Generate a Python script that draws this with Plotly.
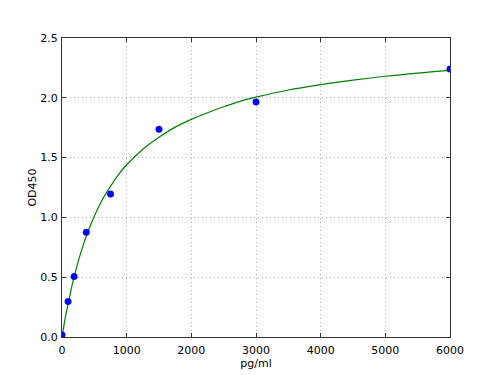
import plotly.graph_objects as go

# Standard points
conc = [0, 94, 188, 375, 750, 1500, 3000, 6000]
od = [0.017, 0.297, 0.505, 0.875, 1.195, 1.736, 1.965, 2.24]

# Fitted curve
curve_x = [0, 25, 50, 100, 150, 200, 300, 400, 500, 625, 750, 875, 1000, 1250, 1500,
           1750, 2000, 2250, 2500, 2750, 3000, 3500, 4000, 4500, 5000, 5500, 6000]
curve_y = [0.0, 0.08, 0.16, 0.29, 0.42, 0.53, 0.72, 0.88, 1.01, 1.15, 1.26, 1.36,
           1.44, 1.57, 1.67, 1.755, 1.82, 1.875, 1.925, 1.97, 2.005, 2.065, 2.11,
           2.148, 2.18, 2.207, 2.23]

x_ticks = [0, 1000, 2000, 3000, 4000, 5000, 6000]
y_ticks = [0.0, 0.5, 1.0, 1.5, 2.0, 2.5]
y_labels = ["0.0", "0.5", "1.0", "1.5", "2.0", "2.5"]

font = dict(family="DejaVu Sans", size=11, color="black")

fig = go.Figure()
fig.add_trace(go.Scatter(x=curve_x, y=curve_y, mode="lines",
                         line=dict(color="#008000", width=1.2, shape="spline", smoothing=1.0),
                         hoverinfo="skip"))
fig.add_trace(go.Scatter(x=conc, y=od, mode="markers",
                         marker=dict(color="#0000ff", size=6.5,
                                     line=dict(color="#0000cc", width=0.5))))

axis_common = dict(showline=True, linecolor="#333333", linewidth=1, mirror="ticks",
                   ticks="inside", ticklen=4, tickcolor="#333333",
                   showgrid=True, gridcolor="#aaaaaa", griddash="1px,3px", gridwidth=1,
                   zeroline=False, tickfont=font, automargin=False)

fig.update_xaxes(range=[0, 6000], tickvals=x_ticks, ticktext=[str(v) for v in x_ticks],
                 ticklabelstandoff=3,
                 title=dict(text="pg/ml", font=font, standoff=2), **axis_common)
fig.update_yaxes(range=[0, 2.5], tickvals=y_ticks, ticktext=y_labels,
                 ticklabelstandoff=1,
                 title=dict(text="OD450", font=font, standoff=1), **axis_common)

fig.update_layout(width=500, height=375, showlegend=False,
                  margin=dict(l=62, r=50, t=38, b=38),
                  plot_bgcolor="white", paper_bgcolor="white", font=font)

fig.write_html("out.html")
